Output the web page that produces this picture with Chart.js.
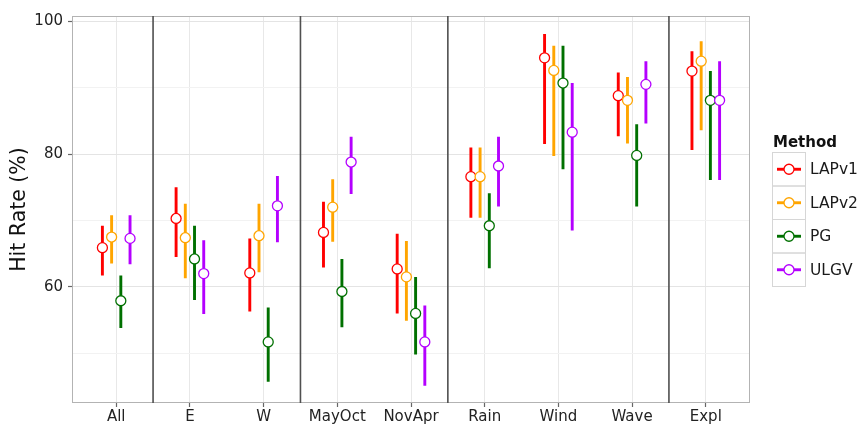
<!DOCTYPE html>
<html>
<head>
<meta charset="utf-8">
<script src="https://cdn.jsdelivr.net/npm/chart.js@4/dist/chart.umd.min.js"></script>
<style>
  html, body { margin: 0; padding: 0; background: #ffffff; }
  canvas { display: block; }
</style>
</head>
<body>
<canvas id="chart" width="863" height="426"></canvas>
<script>
// Regions / subsets on the x axis
const categories = ['All', 'E', 'W', 'MayOct', 'NovApr', 'Rain', 'Wind', 'Wave', 'Expl'];
const methods = ['LAPv1', 'LAPv2', 'PG', 'ULGV'];
const methodColors = ['#ff0000', '#ffa500', '#007000', '#b400ff'];

// Hit rate (%) with lower / upper interval bounds, one array per method
const lapv1Rate = [65.9, 70.3, 62.1, 68.2, 62.7, 76.6, 94.5, 88.8, 92.5];
const lapv1Low  = [61.7, 64.5, 56.3, 62.9, 56.0, 70.4, 81.5, 82.7, 80.6];
const lapv1High = [69.2, 75.0, 67.3, 72.8, 68.0, 81.0, 98.1, 92.3, 95.5];

const lapv2Rate = [67.5, 67.4, 67.7, 72.0, 61.5, 76.6, 92.6, 88.1, 94.0];
const lapv2Low  = [63.5, 61.3, 62.2, 66.8, 54.9, 70.4, 79.7, 81.6, 83.6];
const lapv2High = [70.8, 72.5, 72.5, 76.2, 66.9, 81.0, 96.3, 91.6, 97.0];

const pgRate = [57.9, 64.2, 51.7, 59.3, 56.0, 69.2, 90.7, 79.8, 88.1];
const pgLow  = [53.8, 58.0, 45.7, 53.9, 49.8, 62.8, 77.7, 72.1, 76.1];
const pgHigh = [61.7, 69.2, 56.9, 64.2, 61.5, 74.1, 96.3, 84.5, 92.5];

const ulgvRate = [67.3, 62.0, 72.2, 78.8, 51.7, 78.2, 83.3, 90.5, 88.1];
const ulgvLow  = [63.4, 55.9, 66.7, 74.0, 45.1, 72.1, 68.5, 84.6, 76.1];
const ulgvHigh = [70.8, 67.0, 76.7, 82.6, 57.2, 82.6, 90.7, 94.0, 94.0];

// Vertical separators between category groups (positions between categories)
const groupBreaks = [0.5, 2.5, 4.5, 7.5];

// Y axis: labelled ticks and minor grid positions
const yTickLabels = [60, 80, 100];
const yMinorGrid = [50, 70, 90];
const yMin = 42.5;
const yMax = 100.8;

const rates = [lapv1Rate, lapv2Rate, pgRate, ulgvRate];
const lows = [lapv1Low, lapv2Low, pgLow, ulgvLow];
const highs = [lapv1High, lapv2High, pgHigh, ulgvHigh];
const dodge = [-0.1875, -0.0625, 0.0625, 0.1875];

const FONT = "'DejaVu Sans', 'Liberation Sans', sans-serif";

const datasets = [];

// group separators
datasets.push({
  type: 'line',
  label: 'separators',
  data: groupBreaks.flatMap(b => [{ x: b, y: yMin }, { x: b, y: yMax }, { x: b, y: null }]),
  borderColor: '#505050',
  borderWidth: 1.6,
  pointRadius: 0,
  spanGaps: false,
  order: 40
});

methods.forEach((m, k) => {
  // interval bars
  datasets.push({
    type: 'line',
    label: m + ' interval',
    data: categories.flatMap((_, i) => [
      { x: i + dodge[k], y: lows[k][i] },
      { x: i + dodge[k], y: highs[k][i] },
      { x: i + dodge[k], y: null }
    ]),
    borderColor: methodColors[k],
    borderWidth: 2.9,
    pointRadius: 0,
    spanGaps: false,
    order: 30 - k
  });
  // point estimates
  datasets.push({
    type: 'line',
    label: m,
    data: categories.map((_, i) => ({ x: i + dodge[k], y: rates[k][i] })),
    showLine: false,
    pointRadius: 5,
    pointBorderWidth: 1.3,
    pointBackgroundColor: '#ffffff',
    pointBorderColor: methodColors[k],
    order: 20 - k
  });
});

// panel border and legend
const panelAndLegend = {
  id: 'panelAndLegend',
  beforeDatasetsDraw(chart) {
    const { ctx, chartArea: a } = chart;
    ctx.save();
    ctx.strokeStyle = '#b3b3b3';
    ctx.lineWidth = 1;
    ctx.strokeRect(Math.round(a.left) + 0.5, Math.round(a.top) + 0.5,
                   Math.round(a.right - a.left) - 1, Math.round(a.bottom - a.top) - 1);
    ctx.restore();
  },
  afterDraw(chart) {
    const { ctx } = chart;
    const x0 = 772, y0 = 152.5, kw = 33, kh = 33.5;
    ctx.save();
    ctx.fillStyle = '#111111';
    ctx.font = "bold 15px " + FONT;
    ctx.textAlign = 'left';
    ctx.textBaseline = 'alphabetic';
    ctx.fillText('Method', 773, 147);
    methods.forEach((m, k) => {
      const top = y0 + k * kh;
      const cy = top + kh / 2;
      ctx.strokeStyle = '#d6d6d6';
      ctx.lineWidth = 1;
      ctx.strokeRect(x0 + 0.5, top, kw, kh);
      ctx.strokeStyle = methodColors[k];
      ctx.lineWidth = 2.9;
      ctx.beginPath();
      ctx.moveTo(x0 + 5, cy);
      ctx.lineTo(x0 + kw - 4, cy);
      ctx.stroke();
      ctx.beginPath();
      ctx.arc(x0 + kw / 2 + 0.5, cy, 5, 0, Math.PI * 2);
      ctx.fillStyle = '#ffffff';
      ctx.fill();
      ctx.lineWidth = 1.3;
      ctx.stroke();
      ctx.fillStyle = '#1a1a1a';
      ctx.font = "15.5px " + FONT;
      ctx.textBaseline = 'middle';
      ctx.fillText(m, 810, cy + 1);
    });
    ctx.restore();
  }
};

new Chart(document.getElementById('chart'), {
  type: 'line',
  data: { datasets },
  plugins: [panelAndLegend],
  options: {
    responsive: false,
    devicePixelRatio: 1,
    animation: false,
    events: [],
    layout: { padding: { top: 16, right: 113, left: 0, bottom: 0 } },
    plugins: { legend: { display: false }, tooltip: { enabled: false } },
    scales: {
      x: {
        type: 'linear',
        min: -0.6,
        max: 8.6,
        afterBuildTicks: s => { s.ticks = categories.map((_, i) => ({ value: i })); },
        afterFit: s => { s.height = 23; },
        ticks: {
          autoSkip: false,
          maxRotation: 0,
          padding: 1,
          color: '#222222',
          font: { family: FONT, size: 15 },
          callback: v => categories[v]
        },
        grid: {
          color: '#e8e8e8',
          lineWidth: 1,
          tickLength: 4,
          tickColor: '#666666',
          tickWidth: 1.2
        },
        border: { display: false }
      },
      y: {
        type: 'linear',
        min: yMin,
        max: yMax,
        afterBuildTicks: s => {
          s.ticks = [...yMinorGrid, ...yTickLabels].sort((a, b) => a - b).map(v => ({ value: v }));
        },
        afterFit: s => { s.width = 72; },
        ticks: {
          padding: 5,
          color: '#222222',
          font: { family: FONT, size: 15 },
          callback: v => (yTickLabels.includes(v) ? String(v) : '')
        },
        grid: {
          color: c => (c.tick && yTickLabels.includes(c.tick.value) ? '#e4e4e4' : '#f2f2f2'),
          lineWidth: 1,
          tickLength: 4,
          tickColor: c => (c.tick && yTickLabels.includes(c.tick.value) ? '#666666' : 'rgba(0,0,0,0)'),
          tickWidth: 1.2
        },
        border: { display: false },
        title: {
          display: true,
          text: 'Hit Rate (%)',
          color: '#111111',
          font: { family: FONT, size: 20.5 },
          padding: { top: 7, bottom: 0 }
        }
      }
    }
  }
});
</script>
</body>
</html>
